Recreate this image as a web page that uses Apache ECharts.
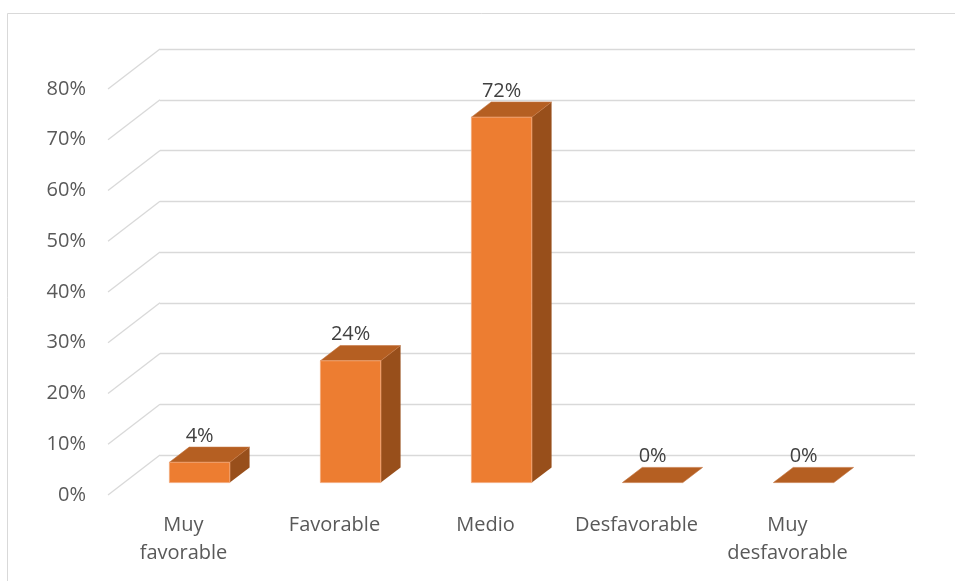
<!DOCTYPE html>
<html>
<head>
<meta charset="utf-8">
<script src="https://cdn.jsdelivr.net/npm/echarts@6/dist/echarts.min.js"></script>
<style>html,body{margin:0;padding:0;background:#fff;}#c{width:955px;height:581px;}</style>
</head>
<body>
<div id="c"></div>
<script>
const categories = ['Muy\nfavorable', 'Favorable', 'Medio', 'Desfavorable', 'Muy\ndesfavorable'];
const values = [0.04, 0.24, 0.72, 0, 0];
const valueLabels = ['4%', '24%', '72%', '0%', '0%'];
const yTicks = [0, 0.1, 0.2, 0.3, 0.4, 0.5, 0.6, 0.7, 0.8];
const yTickLabels = ['0%', '10%', '20%', '30%', '40%', '50%', '60%', '70%', '80%'];

const DX = -52, DY = 40;       // depth offset of the floor (back -> front)
const T_BACK = 0.31, T_FRONT = 0.69;
const FONT = '"Open Sans", "Noto Sans", sans-serif';

const chart = echarts.init(document.getElementById('c'), null, {renderer: 'canvas'});
chart.setOption({
  animation: false,
  backgroundColor: '#fff',
  graphic: [{
    type: 'rect', shape: {x: 7.5, y: 13.5, width: 1000, height: 1000},
    style: {fill: 'none', stroke: '#d9d9d9', lineWidth: 1}, silent: true, z: -10
  }],
  grid: [
    {left: 160, right: 40, top: 49, bottom: 126},
    {left: 108, right: 92, top: 89, bottom: 86}
  ],
  xAxis: [
    {type: 'category', gridIndex: 0, data: categories, show: false},
    {type: 'category', gridIndex: 1, data: categories,
     axisLine: {show: false}, axisTick: {show: false},
     axisLabel: {interval: 0, margin: 16, color: '#595959', fontFamily: FONT, fontSize: 20, lineHeight: 28}}
  ],
  yAxis: [
    {type: 'value', gridIndex: 0, min: 0, max: 0.8, interval: 0.1,
     axisLine: {show: false}, axisTick: {show: false}, axisLabel: {show: false},
     splitLine: {lineStyle: {color: '#d9d9d9', width: 1.3}}},
    {type: 'value', gridIndex: 1, min: 0, max: 0.8, interval: 0.1,
     axisLine: {show: false}, axisTick: {show: false}, splitLine: {show: false},
     axisLabel: {margin: 22, color: '#595959', fontFamily: FONT, fontSize: 20,
       formatter: v => yTickLabels[yTicks.findIndex(t => Math.abs(t - v) < 1e-6)]}}
  ],
  series: [
    {
      type: 'custom', xAxisIndex: 0, yAxisIndex: 0, silent: true, z: 1,
      data: yTicks.map(t => [0, t]),
      renderItem: (params, api) => {
        const y = api.coord([0, api.value(1)])[1];
        const x = params.coordSys.x;
        return {type: 'line', shape: {x1: x, y1: y, x2: x + DX, y2: y + DY},
                style: {stroke: '#d9d9d9', lineWidth: 1.3}};
      }
    },
    {
      type: 'custom', xAxisIndex: 0, yAxisIndex: 0, silent: true, z: 5,
      data: values.map((v, i) => [i, v]),
      renderItem: (params, api) => {
        const i = api.value(0), v = api.value(1);
        const c0 = api.coord([i, 0]);
        const c1 = api.coord([i, v]);
        const w = api.size([1, 0])[0] * 0.4;
        const fx = c0[0] + DX * T_FRONT, fy0 = c0[1] + DY * T_FRONT, fy1 = c1[1] + DY * T_FRONT;
        const bx = c0[0] + DX * T_BACK, by0 = c0[1] + DY * T_BACK, by1 = c1[1] + DY * T_BACK;
        const children = [];
        children.push({type: 'polygon', shape: {points: [[fx + w/2, fy1], [bx + w/2, by1], [bx + w/2, by0], [fx + w/2, fy0]]},
          style: {fill: '#984f1b'}});
        children.push({type: 'polygon', shape: {points: [[fx - w/2, fy1], [fx + w/2, fy1], [bx + w/2, by1], [bx - w/2, by1]]},
          style: {fill: '#b55f22', stroke: '#c27440', lineWidth: 0.6}});
        if (fy0 - fy1 > 0.5) {
          children.push({type: 'rect', shape: {x: fx - w/2, y: fy1, width: w, height: fy0 - fy1},
            style: {fill: '#ed7d31', stroke: '#f3a777', lineWidth: 0.8}});
        }
        children.push({type: 'text', x: fx, y: by1 - 11,
          style: {text: valueLabels[i], fill: '#404040', font: '20px ' + FONT, align: 'center', verticalAlign: 'middle'}});
        return {type: 'group', children};
      }
    }
  ]
});
</script>
</body>
</html>
